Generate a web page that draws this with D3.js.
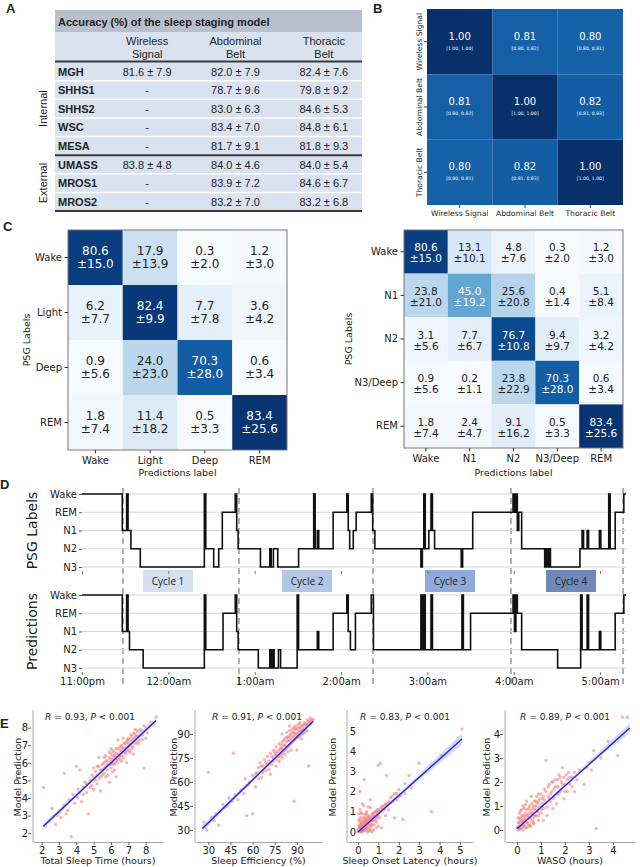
<!DOCTYPE html>
<html>
<head>
<meta charset="utf-8" />
<script src="https://cdn.jsdelivr.net/npm/d3@7"></script>
<style>
  body { margin: 0; background: #fff; }
  svg text { font-family: "DejaVu Sans", sans-serif; fill: #222; }
  .tbl text { font-family: "Liberation Sans", Arial, sans-serif; }
</style>
</head>
<body>
<svg width="640" height="867"></svg>
<script>
// ---------- data: panel A ----------
var cohorts = ["MGH", "SHHS1", "SHHS2", "WSC", "MESA", "UMASS", "MROS1", "MROS2"];
var wirelessMean = [81.6, null, null, null, null, 83.8, null, null];
var wirelessSd = [7.9, null, null, null, null, 4.8, null, null];
var abdominalMean = [82.0, 78.7, 83.0, 83.4, 81.7, 84.0, 83.9, 83.2];
var abdominalSd = [7.9, 9.6, 6.3, 7.0, 9.1, 4.6, 7.2, 7.0];
var thoracicMean = [82.4, 79.8, 84.6, 84.8, 81.8, 84.0, 84.6, 83.2];
var thoracicSd = [7.6, 9.2, 5.3, 6.1, 9.3, 5.4, 6.7, 6.8];
var tableHeads = [["Wireless", "Signal"], ["Abdominal", "Belt"], ["Thoracic", "Belt"]];
var groupNames = ["Internal", "External"];
var groupSpans = [["MGH", "MESA"], ["UMASS", "MROS2"]];

// ---------- data: panel B ----------
var modalities = ["Wireless Signal", "Abdominal Belt", "Thoracic Belt"];
var corr = [[1.00, 0.81, 0.80], [0.81, 1.00, 0.82], [0.80, 0.82, 1.00]];
var corrLow = [[1.00, 0.80, 0.80], [0.80, 1.00, 0.81], [0.80, 0.81, 1.00]];
var corrHigh = [[1.00, 0.82, 0.81], [0.82, 1.00, 0.83], [0.81, 0.83, 1.00]];

// ---------- data: panel C ----------
var stages4 = ["Wake", "Light", "Deep", "REM"];
var cm4Mean = [[80.6, 17.9, 0.3, 1.2], [6.2, 82.4, 7.7, 3.6], [0.9, 24.0, 70.3, 0.6], [1.8, 11.4, 0.5, 83.4]];
var cm4Sd = [[15.0, 13.9, 2.0, 3.0], [7.7, 9.9, 7.8, 4.2], [5.6, 23.0, 28.0, 3.4], [7.4, 18.2, 3.3, 25.6]];
var stages5 = ["Wake", "N1", "N2", "N3/Deep", "REM"];
var cm5Mean = [[80.6, 13.1, 4.8, 0.3, 1.2], [23.8, 45.0, 25.6, 0.4, 5.1], [3.1, 7.7, 76.7, 9.4, 3.2],
  [0.9, 0.2, 23.8, 70.3, 0.6], [1.8, 2.4, 9.1, 0.5, 83.4]];
var cm5Sd = [[15.0, 10.1, 7.6, 2.0, 3.0], [21.0, 19.2, 20.8, 1.4, 8.4], [5.6, 6.7, 10.8, 9.7, 4.2],
  [5.6, 1.1, 22.9, 28.0, 3.4], [7.4, 4.7, 16.2, 3.3, 25.6]];

// ---------- data: panel D (minutes after 11:00pm) ----------
var hypStages = ["Wake", "REM", "N1", "N2", "N3"];
var hourTicks = [0, 60, 120, 180, 240, 300, 360];
var hourLabels = ["11:00pm", "12:00am", "1:00am", "2:00am", "3:00am", "4:00am", "5:00am"];
var cycleBounds = [28.5, 109.1, 202.2, 298.1, 376];
var cycleNames = ["Cycle 1", "Cycle 2", "Cycle 3", "Cycle 4"];
var cycleCenters = [59.8, 156.4, 255.7, 339.8];
var cycleColors = ["#d5dff0", "#b3c6e6", "#8eaadb", "#7189b9"];
var psgEvents = [[0, "Wake"], [28, "N1"], [31, "Wake"], [32, "N1"], [34, "N2"], [40.5, "N3"], [85, "Wake"], [86, "N2"],
  [91.5, "N3"], [95, "N2"], [97.5, "REM"], [106.5, "Wake"], [107.5, "N1"], [108.5, "N2"], [124, "N3"], [130.5, "N2"],
  [131.5, "N3"], [133, "N2"], [136, "N3"], [150.5, "N2"], [161, "Wake"], [162, "N2"], [163.5, "N1"], [164.5, "N2"],
  [174.5, "REM"], [184, "Wake"], [185, "N1"], [186, "N2"], [188.5, "N1"], [190.5, "REM"], [201, "Wake"], [202, "N1"],
  [203.5, "N2"], [235.5, "N3"], [236.5, "N2"], [237.5, "Wake"], [238.5, "N2"], [241, "N1"], [242.5, "Wake"], [243.5, "N1"],
  [245, "N2"], [263.5, "N3"], [264.5, "N2"], [271.5, "REM"], [299.5, "Wake"], [300.5, "REM"], [301.5, "Wake"], [302.5, "N1"],
  [303.5, "REM"], [305.5, "N2"], [321.5, "N3"], [322.5, "N2"], [323.5, "N3"], [324.5, "N2"], [325.5, "N3"], [346, "N2"],
  [347.5, "N1"], [348.5, "N2"], [351, "N1"], [352, "N2"], [359.5, "N1"], [360.5, "N2"], [366, "Wake"], [367, "N2"],
  [370.5, "REM"], [376.5, "Wake"], [378, "Wake"]];
var predEvents = [[0, "Wake"], [28, "N1"], [31, "Wake"], [32, "N1"], [33, "N2"], [42.5, "N3"], [85, "Wake"], [86, "N2"],
  [98, "REM"], [106.5, "Wake"], [107.5, "N1"], [108.5, "N2"], [122.5, "N3"], [130.5, "N2"], [131.5, "N3"], [132.5, "N2"],
  [133.5, "N3"], [136.5, "N2"], [138, "N3"], [149.5, "Wake"], [150.5, "N2"], [163.5, "N1"], [164.5, "N2"], [174.5, "REM"],
  [184, "Wake"], [185, "N1"], [186.5, "N2"], [190, "REM"], [201, "Wake"], [202.5, "N2"], [235.5, "Wake"], [236.5, "N2"],
  [237.5, "Wake"], [238.5, "N2"], [242.5, "Wake"], [243.5, "N2"], [264, "Wake"], [265, "N2"], [270, "REM"], [299.5, "Wake"],
  [300.5, "N1"], [301.5, "Wake"], [302.5, "REM"], [305.5, "N2"], [330.5, "N3"], [346.5, "Wake"], [347.5, "N2"], [351, "Wake"],
  [352, "N2"], [359.5, "N1"], [360.5, "N2"], [370.5, "REM"], [376.5, "Wake"], [378, "Wake"]];

// ---------- data: panel E ----------
var tstPoints = [[2.1,4.6],[2.2,2.4],[2.4,2.7],[2.6,3.4],[2.8,2.5],[2.9,3.0],[3.0,3.2],[3.1,2.9],[3.3,5.4],[3.3,3.6],[3.5,3.3],
  [3.6,3.9],[3.7,1.8],[3.8,4.2],[3.9,3.7],[4.0,5.8],[4.0,4.1],[4.2,4.3],[4.3,3.8],[4.4,4.6],[4.5,4.9],[4.6,4.3],[4.7,3.1],
  [4.8,5.0],[4.9,4.7],[5.0,5.2],[5.0,4.5],[5.1,5.5],[5.2,4.8],[5.2,5.8],[5.3,5.1],[5.4,5.6],[5.4,4.4],[5.5,5.9],[5.5,5.3],
  [5.6,6.0],[5.6,5.4],[5.7,5.8],[5.7,6.4],[5.8,5.6],[5.8,6.1],[5.9,6.3],[5.9,5.9],[6.0,6.0],[6.0,6.5],[6.0,5.7],[6.1,6.2],
  [6.1,6.7],[6.2,5.9],[6.2,6.4],[6.3,6.1],[6.3,6.8],[6.4,6.5],[6.4,6.2],[6.5,6.9],[6.5,6.4],[6.6,6.6],[6.6,7.0],[6.7,6.3],
  [6.7,6.8],[6.8,7.1],[6.8,6.6],[6.9,7.2],[7.0,6.9],[7.0,7.4],[7.1,7.0],[7.2,7.5],[7.2,6.8],[7.3,7.3],[7.4,7.6],[7.5,7.2],
  [7.5,7.8],[7.6,7.5],[7.7,7.9],[7.8,7.3],[7.9,5.7],[8.0,8.0],[8.1,7.7],[8.3,8.3],[8.6,8.6],[6.3,5.2],[5.9,4.9],[6.9,6.0],
  [7.3,6.5],[4.2,5.6],[6.4,7.3],[5.3,6.3],
  [5.6,5.7],[5.7,6.1],[5.8,5.9],[5.9,6.6],[6.0,6.2],[6.05,5.9],[6.1,6.4],[6.15,6.0],[6.2,6.6],[6.25,6.3],[6.3,6.5],[6.35,6.0],
  [6.4,6.8],[6.45,6.4],[6.5,6.2],[6.55,6.7],[6.6,6.4],[6.65,6.9],[6.7,6.6],[6.75,7.1],[6.8,6.8],[6.85,6.5],[6.9,6.9],[6.95,7.3],
  [7.0,7.1],[7.05,6.7],[7.1,7.3],[7.15,7.6],[7.2,7.2],[7.25,6.9],[7.3,7.7],[7.35,7.4],[7.4,7.1],[7.45,7.5],[7.5,7.5],[7.6,7.8],
  [7.65,7.3],[7.7,7.6],[7.8,7.8],[7.9,8.1],[5.2,5.3],[5.3,5.8],[5.4,5.2],[5.5,5.6],[5.1,5.0],[4.9,5.3],[4.8,4.6],[4.6,4.8],
  [4.4,4.2],[5.0,5.7],[5.6,6.3],[5.7,5.2],[6.0,6.8],[6.2,5.6],[6.6,6.1],[6.9,6.7],[7.1,6.6],[7.4,7.9],[7.6,7.1],[7.8,7.6],
  [8.0,7.4],[8.2,8.1],[3.4,3.1],[3.2,3.4],[4.1,4.5],[5.8,5.3],[6.7,7.4],[6.1,5.5]];
var sePoints = [[27,35],[28,32],[29,30],[30,66],[32,38],[34,36],[35,40],[37,33],[38,42],[40,46],[41,44],[43,45],[44,50],[46,48],
  [47,78],[48,52],[50,49],[52,55],[54,53],[55,62],[56,39],[57,58],[58,60],[60,40],[60,64],[62,57],[63,66],[64,69],[65,72],
  [66,63],[67,70],[68,74],[69,67],[70,76],[71,73],[72,78],[73,71],[74,80],[75,77],[76,82],[76,74],[77,79],[78,84],[78,76],
  [79,81],[80,78],[80,85],[81,83],[82,80],[82,87],[83,85],[84,82],[84,88],[85,86],[86,84],[86,90],[87,88],[88,48],[88,91],
  [89,87],[89,93],[90,90],[91,88],[91,94],[92,92],[93,90],[93,95],[94,93],[95,96],[95,91],[96,94],[97,97],[97,92],[98,70],
  [98,96],[99,98],[100,97],[101,99],[85,95],[80,90],[72,65],[90,80],
  [74,75],[75,79],[76,78],[77,76],[78,80],[79,77],[79,83],[80,81],[81,79],[81,86],[82,83],[83,81],[83,88],[84,86],[85,83],
  [85,89],[86,87],[87,85],[87,91],[88,89],[88,86],[89,90],[90,88],[90,93],[91,91],[92,89],[92,94],[93,92],[94,95],[94,90],
  [95,93],[95,97],[96,96],[96,92],[97,95],[98,98],[99,96],[100,99],[91,96],[89,95],[87,93],[86,80],[84,79],[82,77],[80,75],
  [78,73],[76,70],[73,76],[71,68],[69,72],[67,66],[66,70],[64,62],[62,65],[70,71],[74,73],[83,91],[93,87],[97,99],[99,100],
  [85,92],[88,94],[92,97]];
var solPoints = [[0.0,0.0],[0.02,0.1],[0.05,0.3],[0.05,0.05],[0.08,0.5],[0.1,2.0],[0.1,0.2],[0.12,0.7],[0.15,0.1],[0.15,0.4],
  [0.2,0.9],[0.2,0.2],[0.22,0.05],[0.25,0.5],[0.28,1.3],[0.3,2.6],[0.3,0.3],[0.32,0.7],[0.35,0.1],[0.38,0.45],[0.4,0.6],
  [0.42,1.0],[0.45,0.25],[0.5,0.5],[0.5,0.8],[0.52,0.05],[0.55,0.4],[0.6,0.6],[0.62,1.2],[0.65,0.3],[0.7,0.7],[0.72,0.9],
  [0.75,0.1],[0.8,0.75],[0.85,1.0],[0.9,0.5],[0.95,0.9],[1.0,3.3],[1.0,1.1],[1.05,0.7],[1.1,3.4],[1.1,1.0],[1.15,0.2],
  [1.2,1.2],[1.3,1.3],[1.35,0.8],[1.4,2.8],[1.45,1.4],[1.5,1.1],[1.6,1.7],[1.7,1.5],[1.8,0.7],[1.8,1.9],[1.9,1.6],[2.0,2.1],
  [2.1,1.8],[2.2,0.6],[2.3,1.9],[2.3,2.4],[2.5,2.8],[2.6,2.2],[3.0,3.4],[3.6,1.0],[3.6,3.3],[4.1,3.8],[5.1,5.1],[0.6,0.15],
  [0.35,0.85],[0.15,0.6],[0.8,0.35],
  [0.05,0.15],[0.08,0.25],[0.1,0.35],[0.12,0.05],[0.15,0.25],[0.18,0.45],[0.2,0.1],[0.22,0.3],[0.25,0.15],[0.25,0.7],
  [0.28,0.35],[0.3,0.05],[0.3,0.55],[0.33,0.2],[0.35,0.4],[0.38,0.6],[0.4,0.15],[0.4,0.35],[0.42,0.5],[0.45,0.7],[0.48,0.4],
  [0.5,0.2],[0.52,0.6],[0.55,0.75],[0.58,0.5],[0.6,0.3],[0.62,0.7],[0.65,0.55],[0.68,0.85],[0.7,0.4],[0.72,0.6],[0.75,0.75],
  [0.78,0.95],[0.8,0.55],[0.85,0.8],[0.88,0.65],[0.9,1.0],[0.92,0.75],[0.95,1.1],[1.0,0.85],[1.05,1.0],[1.1,1.2],[1.15,1.05],
  [1.2,1.3],[1.25,1.1],[1.3,1.15],[1.35,1.4],[1.4,1.3],[1.5,1.5],[1.6,1.45],[1.7,1.8],[1.9,1.9],[2.0,1.75],[0.1,0.0],[0.18,0.0],
  [0.45,0.0],[0.6,0.05],[0.9,0.2],[0.7,0.0],[1.0,0.3],[0.05,0.9],[0.1,1.1],[0.2,1.4],[0.15,0.95],[0.02,0.6],[0.5,1.25],
  [0.6,1.6],[0.4,0.9]];
var wasoPoints = [[0.0,0.1],[0.05,0.3],[0.05,0.0],[0.1,0.5],[0.1,0.15],[0.15,0.8],[0.15,0.05],[0.2,0.35],[0.2,0.6],[0.25,0.2],
  [0.3,0.9],[0.3,0.4],[0.35,0.1],[0.4,0.6],[0.4,1.2],[0.45,0.3],[0.5,0.5],[0.5,0.9],[0.55,0.2],[0.6,1.4],[0.6,0.7],[0.65,0.45],
  [0.7,1.0],[0.75,0.6],[0.8,1.2],[0.85,0.8],[0.9,0.4],[0.9,1.5],[1.0,1.0],[1.0,0.7],[1.05,1.3],[1.1,0.9],[1.15,1.7],[1.2,2.9],
  [1.2,1.1],[1.25,0.6],[1.3,1.4],[1.35,1.9],[1.4,1.2],[1.45,1.6],[1.5,0.9],[1.5,2.0],[1.55,1.4],[1.6,1.8],[1.65,1.1],[1.7,2.1],
  [1.75,1.5],[1.8,2.2],[1.85,1.7],[1.9,2.6],[1.95,1.3],[2.0,1.9],[2.05,2.3],[2.1,1.6],[2.2,2.2],[2.3,1.8],[2.4,2.4],[2.5,2.1],
  [2.6,2.5],[2.8,1.9],[2.9,2.6],[3.0,2.8],[3.1,2.5],[3.2,3.3],[3.3,0.05],[3.5,3.0],[3.8,3.7],[4.2,3.1],[4.4,4.7],[4.6,4.7],
  [0.25,1.0],[0.7,0.25],[1.1,0.4],
  [0.05,0.15],[0.1,0.3],[0.12,0.05],[0.15,0.4],[0.18,0.2],[0.2,0.5],[0.22,0.1],[0.25,0.35],[0.28,0.6],[0.3,0.2],[0.32,0.5],
  [0.35,0.7],[0.38,0.3],[0.4,0.45],[0.42,0.85],[0.45,0.6],[0.48,0.2],[0.5,0.7],[0.52,1.0],[0.55,0.5],[0.58,0.8],[0.6,0.35],
  [0.62,1.1],[0.65,0.7],[0.68,0.9],[0.7,0.55],[0.72,1.2],[0.75,0.85],[0.78,1.0],[0.8,0.6],[0.82,1.4],[0.85,1.1],[0.88,0.75],
  [0.9,1.2],[0.92,0.95],[0.95,1.3],[1.0,1.5],[1.02,0.85],[1.05,1.1],[1.1,1.4],[1.15,1.25],[1.2,1.6],[1.25,0.95],[1.3,1.8],
  [1.35,1.3],[1.4,1.5],[1.45,2.0],[1.5,1.3],[1.55,1.7],[1.6,2.1],[1.65,1.5],[1.7,1.8],[1.75,2.3],[1.8,1.6],[1.85,2.0],[1.9,1.9],
  [1.95,2.2],[2.0,1.6],[2.1,2.1],[2.15,2.4],[2.2,1.9],[2.3,2.2],[2.4,1.6],[0.05,0.5],[0.1,0.7],[0.2,0.85],[0.35,1.05],[0.25,0.0],
  [0.4,0.1],[0.55,0.15],[0.7,0.3],[0.9,0.6]];
var fitLines = [[[2.1, 2.4], [8.6, 8.4]], [[26, 31], [101, 98]], [[0, 0], [5.1, 4.6]], [[0, 0.05], [4.7, 4.25]]];
var fitBands = [[[2.1, 2.25, 2.55], [5.5, 5.55, 5.65], [8.6, 8.25, 8.55]],
  [[26, 29, 33], [70, 69.5, 71], [101, 97, 99]],
  [[0, -0.06, 0.06], [1, 0.85, 0.98], [3, 2.6, 2.85], [5.1, 4.3, 4.9]],
  [[0, 0.0, 0.1], [1.5, 1.35, 1.45], [3, 2.7, 2.85], [4.7, 4.05, 4.45]]];
var corrR = ["0.93", "0.91", "0.83", "0.89"];
var xLabelsE = ["Total Sleep Time (hours)", "Sleep Efficiency (%)", "Sleep Onset Latency (hours)", "WASO (hours)"];

var svg = d3.select("svg");

// panel letters
[["A", 6, 13], ["B", 373, 13], ["C", 3, 231], ["D", 0, 489], ["E", 0, 728]].forEach(function (l) {
  svg.append("text").attr("x", l[1]).attr("y", l[2]).attr("font-size", 13).attr("font-weight", "bold")
    .style("font-family", "Liberation Sans, Arial, sans-serif").text(l[0]);
});

// ================= A: table =================
var gA = svg.append("g").attr("class", "tbl");
var colKeys = ["w", "a", "t"];
var xCol = d3.scaleBand().domain(colKeys).range([103, 368]);
var yRow = d3.scaleBand().domain(cohorts).range([62, 211]);
gA.append("rect").attr("x", 55).attr("y", 10).attr("width", 307).attr("height", 22).attr("fill", "#b8c0ce");
gA.append("rect").attr("x", 55).attr("y", 32).attr("width", 307).attr("height", 179).attr("fill", "#dae2f0");
gA.append("text").attr("x", 58).attr("y", 25.5).attr("font-size", 11).attr("font-weight", "bold")
  .text("Accuracy (%) of the sleep staging model");
tableHeads.forEach(function (h, i) {
  gA.append("text").attr("x", xCol(colKeys[i]) + xCol.bandwidth() / 2).attr("y", 45).attr("font-size", 11)
    .attr("text-anchor", "middle").text(h[0]);
  gA.append("text").attr("x", xCol(colKeys[i]) + xCol.bandwidth() / 2).attr("y", 57.5).attr("font-size", 11)
    .attr("text-anchor", "middle").text(h[1]);
});
cohorts.forEach(function (c, i) {
  if (i > 0)
    gA.append("line").attr("x1", 55).attr("x2", 362).attr("y1", yRow(c)).attr("y2", yRow(c))
      .attr("stroke", "#fff").attr("stroke-width", 1.5);
  var yb = yRow(c) + 13.5;
  gA.append("text").attr("x", 58).attr("y", yb).attr("font-size", 11).attr("font-weight", "bold").text(c);
  var vals = [[wirelessMean[i], wirelessSd[i]], [abdominalMean[i], abdominalSd[i]], [thoracicMean[i], thoracicSd[i]]];
  vals.forEach(function (v, j) {
    gA.append("text").attr("x", xCol(colKeys[j]) + xCol.bandwidth() / 2).attr("y", yb).attr("font-size", 11)
      .attr("text-anchor", "middle")
      .text(v[0] == null ? "-" : v[0].toFixed(1) + " \u00b1 " + v[1].toFixed(1));
  });
});
[61.5, yRow("UMASS"), 211].forEach(function (y) {
  gA.append("line").attr("x1", 55).attr("x2", 362).attr("y1", y).attr("y2", y).attr("stroke", "#3a3a3a").attr("stroke-width", 2);
});
groupNames.forEach(function (g, i) {
  var y0 = yRow(groupSpans[i][0]), y1 = yRow(groupSpans[i][1]) + yRow.bandwidth();
  gA.append("text").attr("transform", "translate(47," + (y0 + y1) / 2 + ") rotate(-90)")
    .attr("text-anchor", "middle").attr("font-size", 11).text(g);
});

// ================= B: correlation heatmap =================
var xB = d3.scaleBand().domain(modalities).range([427, 623]);
var yB = d3.scaleBand().domain(modalities).range([9, 205]);
var colorB = d3.scaleSequential(d3.interpolateBlues).domain([-0.05, 1]);
var cellsB = [];
modalities.forEach(function (r, i) {
  modalities.forEach(function (c, j) {
    cellsB.push({ r: r, c: c, v: corr[i][j], lo: corrLow[i][j], hi: corrHigh[i][j] });
  });
});
var gB = svg.append("g");
gB.selectAll("rect").data(cellsB).join("rect")
  .attr("x", function (d) { return xB(d.c); }).attr("y", function (d) { return yB(d.r); })
  .attr("width", xB.bandwidth()).attr("height", yB.bandwidth())
  .attr("fill", function (d) { return colorB(d.v); });
gB.selectAll("text.v").data(cellsB).join("text").attr("class", "v")
  .attr("x", function (d) { return xB(d.c) + xB.bandwidth() / 2; })
  .attr("y", function (d) { return yB(d.r) + yB.bandwidth() / 2 - 2; })
  .attr("text-anchor", "middle").attr("font-size", 10).style("fill", "#fff")
  .text(function (d) { return d.v.toFixed(2); });
gB.selectAll("text.ci").data(cellsB).join("text").attr("class", "ci")
  .attr("x", function (d) { return xB(d.c) + xB.bandwidth() / 2; })
  .attr("y", function (d) { return yB(d.r) + yB.bandwidth() / 2 + 8; })
  .attr("text-anchor", "middle").attr("font-size", 4.6).style("fill", "#fff")
  .text(function (d) { return "[" + d.lo.toFixed(2) + ", " + d.hi.toFixed(2) + "]"; });
svg.append("g").attr("transform", "translate(0,205)")
  .call(d3.axisBottom(xB).tickSize(3).tickSizeOuter(0))
  .call(function (g) { g.select(".domain").remove(); g.selectAll("line").attr("stroke", "#444"); })
  .selectAll("text").attr("font-size", 7.6).attr("y", 6);
svg.append("g").attr("transform", "translate(427,0)")
  .call(d3.axisLeft(yB).tickSize(3).tickSizeOuter(0))
  .call(function (g) { g.select(".domain").remove(); g.selectAll("line").attr("stroke", "#444"); })
  .selectAll("text").attr("font-size", 7.6).attr("transform", "rotate(-90)")
  .attr("text-anchor", "middle").attr("x", 0).attr("dy", 0).attr("y", -5);

// ================= C: confusion matrices =================
function drawCM(labels, mean, sd, x0, x1, y0, y1, fs, off1, off2, ylabX) {
  var x = d3.scaleBand().domain(labels).range([x0, x1]);
  var y = d3.scaleBand().domain(labels).range([y0, y1]);
  var color = d3.scaleSequential(d3.interpolateBlues).domain([0, 85]);
  var cells = [];
  labels.forEach(function (r, i) {
    labels.forEach(function (c, j) { cells.push({ r: r, c: c, m: mean[i][j], s: sd[i][j] }); });
  });
  var g = svg.append("g");
  g.selectAll("rect").data(cells).join("rect")
    .attr("x", function (d) { return x(d.c); }).attr("y", function (d) { return y(d.r); })
    .attr("width", x.bandwidth()).attr("height", y.bandwidth())
    .attr("fill", function (d) { return color(d.m); });
  [[function (d) { return d.m.toFixed(1); }, off1], [function (d) { return "\u00b1" + d.s.toFixed(1); }, off2]].forEach(function (t) {
    g.selectAll(null).data(cells).join("text")
      .attr("x", function (d) { return x(d.c) + x.bandwidth() / 2; })
      .attr("y", function (d) { return y(d.r) + y.bandwidth() / 2 + t[1]; })
      .attr("text-anchor", "middle").attr("font-size", fs)
      .style("fill", function (d) { return d.m > 40 ? "#fff" : "#222"; })
      .text(t[0]);
  });
  g.append("rect").attr("x", x0).attr("y", y0).attr("width", x1 - x0).attr("height", y1 - y0)
    .attr("fill", "none").attr("stroke", "#777").attr("stroke-width", 1);
  svg.append("g").attr("transform", "translate(0," + y1 + ")")
    .call(d3.axisBottom(x).tickSize(3.5).tickSizeOuter(0))
    .call(function (a) { a.select(".domain").remove(); a.selectAll("line").attr("stroke", "#333"); })
    .selectAll("text").attr("font-size", 10).attr("y", 6.5);
  svg.append("g").attr("transform", "translate(" + x0 + ",0)")
    .call(d3.axisLeft(y).tickSize(3.5).tickSizeOuter(0))
    .call(function (a) { a.select(".domain").remove(); a.selectAll("line").attr("stroke", "#333"); })
    .selectAll("text").attr("font-size", 10).attr("x", -6);
  svg.append("text").attr("transform", "translate(" + ylabX + "," + (y0 + y1) / 2 + ") rotate(-90)")
    .attr("text-anchor", "middle").attr("font-size", 9.5).text("PSG Labels");
  svg.append("text").attr("x", (x0 + x1) / 2).attr("y", 476).attr("text-anchor", "middle")
    .attr("font-size", 9.5).text("Predictions label");
}
drawCM(stages4, cm4Mean, cm4Sd, 68, 287, 230, 450, 12, -2.5, 10.5, 30);
drawCM(stages5, cm5Mean, cm5Sd, 404, 623, 230, 448, 10.5, -0.5, 10.5, 352);

// ================= D: hypnograms =================
var xD = d3.scaleLinear().domain([0, 378]).range([82, 626]);
var gD = svg.append("g");
cycleBounds.forEach(function (t) {
  gD.append("line").attr("x1", xD(t)).attr("x2", xD(t)).attr("y1", 488).attr("y2", 684)
    .attr("stroke", "#a9a9a9").attr("stroke-width", 1.8).attr("stroke-dasharray", "6,4");
});
cycleNames.forEach(function (n, i) {
  gD.append("rect").attr("x", xD(cycleCenters[i]) - 25).attr("y", 570).attr("width", 50).attr("height", 22)
    .attr("fill", cycleColors[i]);
  gD.append("text").attr("x", xD(cycleCenters[i])).attr("y", 585).attr("text-anchor", "middle")
    .attr("font-size", 10).style("font-family", "Open Sans, sans-serif").text(n);
});
function drawHyp(events, yTop, yBot, title, showLabels) {
  var y = d3.scalePoint().domain(hypStages).range([yTop, yBot]);
  hypStages.forEach(function (s) {
    gD.append("line").attr("x1", 82).attr("x2", 626).attr("y1", y(s)).attr("y2", y(s))
      .attr("stroke", "#d6d6d6").attr("stroke-width", 1);
  });
  gD.append("g").attr("transform", "translate(82,0)")
    .call(d3.axisLeft(y).tickSize(3).tickSizeOuter(0))
    .call(function (a) { a.select(".domain").remove(); a.selectAll("line").attr("stroke", "#555"); })
    .selectAll("text").attr("font-size", 10).attr("x", -5);
  var ax = gD.append("g").attr("transform", "translate(0," + (yBot + 4) + ")")
    .call(d3.axisBottom(xD).tickValues(hourTicks).tickSize(3).tickSizeOuter(0)
      .tickFormat(function (d, i) { return showLabels ? hourLabels[i] : ""; }))
    .call(function (a) { a.select(".domain").remove(); a.selectAll("line").attr("stroke", "#777"); });
  ax.selectAll("text").attr("font-size", 10).attr("y", 6);
  gD.append("path").datum(events)
    .attr("d", d3.line().curve(d3.curveStepAfter)
      .x(function (d) { return xD(d[0]); }).y(function (d) { return y(d[1]); }))
    .attr("fill", "none").attr("stroke", "#111").attr("stroke-width", 1.6);
  gD.append("text").attr("transform", "translate(37," + (yTop + yBot) / 2 + ") rotate(-90)")
    .attr("text-anchor", "middle").attr("font-size", 14).text(title);
}
drawHyp(psgEvents, 494, 567, "PSG  Labels", false);
drawHyp(predEvents, 595, 668, "Predictions", true);

// ================= E: scatter plots =================
// labX: x of y-tick labels (right edge); p3 has its labels just inside the spine
var scatterCfg = [
  { pts: tstPoints, left: 33, right: 163, xd: [1.5, 9.0], yd: [1.5, 9.0], xt: [2, 3, 4, 5, 6, 7, 8], yt: [2, 3, 4, 5, 6, 7, 8], ylx: 21, tx: 90, labX: 28 },
  { pts: sePoints, left: 195, right: 322, xd: [21, 107], yd: [22.5, 105], xt: [30, 45, 60, 75, 90], yt: [30, 45, 60, 75, 90], ylx: 177, tx: 257, labX: 190 },
  { pts: solPoints, left: 347, right: 473, xd: [-0.54, 5.64], yd: [-0.5, 6.04], xt: [0, 1, 2, 3, 4, 5], yt: [0, 1, 2, 3, 4, 5], ylx: 336, tx: 405, labX: 356 },
  { pts: wasoPoints, left: 505, right: 635, xd: [-0.5, 4.92], yd: [-0.5, 5.0], xt: [0, 1, 2, 3, 4], yt: [0, 1, 2, 3, 4], ylx: 490, tx: 565, labX: 500 }
];
scatterCfg.forEach(function (o, k) {
  var x = d3.scaleLinear().domain(o.xd).range([o.left, o.right]);
  var y = d3.scaleLinear().domain(o.yd).range([842, 710]);
  var g = svg.append("g");
  g.selectAll("circle").data(o.pts).join("circle")
    .attr("cx", function (d) { return x(d[0]); }).attr("cy", function (d) { return y(d[1]); })
    .attr("r", 1.7).attr("fill", "#f26b6b").attr("fill-opacity", 0.5);
  g.append("path").datum(fitBands[k])
    .attr("d", d3.area().x(function (d) { return x(d[0]); }).y0(function (d) { return y(d[1]); }).y1(function (d) { return y(d[2]); }))
    .attr("fill", "#b3c5ea").attr("fill-opacity", 0.6);
  g.append("path").datum(fitLines[k])
    .attr("d", d3.line().x(function (d) { return x(d[0]); }).y(function (d) { return y(d[1]); }))
    .attr("fill", "none").attr("stroke", "#2020ff").attr("stroke-width", 1.4);
  g.append("g").attr("transform", "translate(0,842)")
    .call(d3.axisBottom(x).tickValues(o.xt).tickSize(3).tickSizeOuter(0).tickFormat(d3.format("d")))
    .call(function (a) { a.select(".domain").attr("stroke", "#aaa"); a.selectAll("line").attr("stroke", "#666"); })
    .selectAll("text").attr("font-size", 10).attr("y", 5);
  g.append("line").attr("x1", o.left).attr("x2", o.left).attr("y1", 710).attr("y2", 842).attr("stroke", "#aaa");
  g.append("g").attr("transform", "translate(" + (o.labX + 3) + ",0)")
    .call(d3.axisLeft(y).tickValues(o.yt).tickSize(o.labX < o.left ? 3 : 0).tickSizeOuter(0).tickFormat(d3.format("d")))
    .call(function (a) { a.select(".domain").remove(); a.selectAll("line").attr("stroke", "#666"); })
    .selectAll("text").attr("font-size", 10).attr("x", -3);
  g.append("text").attr("x", (o.left + o.right) / 2).attr("y", 864).attr("text-anchor", "middle")
    .attr("font-size", 9.5).text(xLabelsE[k]);
  g.append("text").attr("transform", "translate(" + o.ylx + ",777) rotate(-90)")
    .attr("text-anchor", "middle").attr("font-size", 9.5).text("Model Prediction");
  var t = g.append("text").attr("x", o.tx).attr("y", 720).attr("text-anchor", "middle").attr("font-size", 9);
  t.append("tspan").attr("font-style", "italic").text("R");
  t.append("tspan").text(" = " + corrR[k] + ", ");
  t.append("tspan").attr("font-style", "italic").text("P");
  t.append("tspan").text(" < 0.001");
});
</script>
</body>
</html>
